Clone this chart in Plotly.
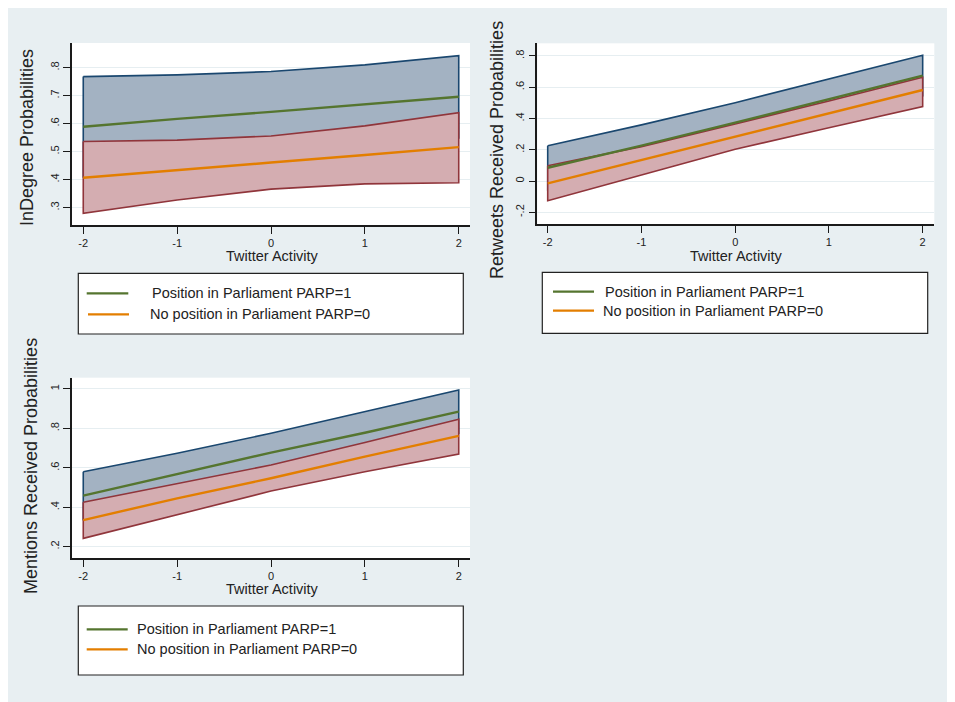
import plotly.graph_objects as go

# ---------------- data ----------------
x_vals = [-2, -1, 0, 1, 2]
x_ticks = [-2, -1, 0, 1, 2]

# Panel 1: InDegree
p1_parp1_mean = [0.589, 0.617, 0.642, 0.670, 0.696]
p1_parp1_hi = [0.768, 0.774, 0.786, 0.810, 0.843]
p1_parp1_lo = [0.410, 0.460, 0.498, 0.530, 0.549]
p1_parp0_mean = [0.407, 0.435, 0.461, 0.488, 0.516]
p1_parp0_hi = [0.536, 0.541, 0.556, 0.592, 0.639]
p1_parp0_lo = [0.280, 0.327, 0.366, 0.385, 0.389]
p1_yticks = [0.3, 0.4, 0.5, 0.6, 0.7, 0.8]
p1_yticklabels = [".3", ".4", ".5", ".6", ".7", ".8"]

# Panel 2: Retweets
p2_parp1_mean = [0.085, 0.226, 0.373, 0.523, 0.674]
p2_parp1_hi = [0.226, 0.359, 0.501, 0.651, 0.804]
p2_parp1_lo = [-0.056, 0.093, 0.245, 0.395, 0.544]
p2_parp0_mean = [-0.015, 0.135, 0.284, 0.433, 0.582]
p2_parp0_hi = [0.098, 0.220, 0.365, 0.512, 0.664]
p2_parp0_lo = [-0.126, 0.039, 0.203, 0.341, 0.476]
p2_yticks = [-0.2, 0.0, 0.2, 0.4, 0.6, 0.8]
p2_yticklabels = ["-.2", "0", ".2", ".4", ".6", ".8"]

# Panel 3: Mentions
p3_parp1_mean = [0.459, 0.567, 0.677, 0.778, 0.885]
p3_parp1_hi = [0.580, 0.674, 0.775, 0.885, 0.995]
p3_parp1_lo = [0.338, 0.460, 0.579, 0.671, 0.775]
p3_parp0_mean = [0.335, 0.445, 0.547, 0.657, 0.762]
p3_parp0_hi = [0.425, 0.518, 0.614, 0.728, 0.846]
p3_parp0_lo = [0.242, 0.361, 0.482, 0.580, 0.670]
p3_yticks = [0.2, 0.4, 0.6, 0.8, 1.0]
p3_yticklabels = [".2", ".4", ".6", ".8", "1"]

x_title = "Twitter Activity"
y_titles = ["InDegree Probabilities", "Retweets Received Probabilities",
            "Mentions Received Probabilities"]
legend_labels = ["Position in Parliament PARP=1", "No position in Parliament PARP=0"]

# ---------------- style ----------------
W, H = 955, 702
OFF = 8  # page body margin
BG = "#e8eff2"
BLUE_FILL = "#a3b2c2"
BLUE_EDGE = "#1a476f"
RED_FILL = "#d4adb1"
RED_EDGE = "#90353b"
GREEN = "#55752f"
ORANGE = "#e37e00"
GRID = "#e6eef1"
AXIS = "#1a1a1a"
FONT = "Liberation Sans, Arial, sans-serif"


def fx(px):
    return (px - OFF) / W


def fy(py):
    return 1 - (py - OFF) / H


fig = go.Figure()

panels = [
    dict(mean1=p1_parp1_mean, hi1=p1_parp1_hi, lo1=p1_parp1_lo,
         mean0=p1_parp0_mean, hi0=p1_parp0_hi, lo0=p1_parp0_lo,
         yt=p1_yticks, ytl=p1_yticklabels,
         xdom=(72, 470), ydom=(43, 225), xr=(-2.12, 2.12), yr=(0.238, 0.888)),
    dict(mean1=p2_parp1_mean, hi1=p2_parp1_hi, lo1=p2_parp1_lo,
         mean0=p2_parp0_mean, hi0=p2_parp0_hi, lo0=p2_parp0_lo,
         yt=p2_yticks, ytl=p2_yticklabels,
         xdom=(537.3, 934.3), ydom=(43.3, 224.3), xr=(-2.111, 2.124), yr=(-0.277, 0.881)),
    dict(mean1=p3_parp1_mean, hi1=p3_parp1_hi, lo1=p3_parp1_lo,
         mean0=p3_parp0_mean, hi0=p3_parp0_hi, lo0=p3_parp0_lo,
         yt=p3_yticks, ytl=p3_yticklabels,
         xdom=(72, 470), ydom=(377.7, 558.3), xr=(-2.12, 2.12), yr=(0.141, 1.057)),
]

layout_axes = {}
for i, p in enumerate(panels):
    n = i + 1
    xa = "x" if n == 1 else f"x{n}"
    ya = "y" if n == 1 else f"y{n}"
    xs = x_vals
    # PARP=1 band
    fig.add_trace(go.Scatter(
        x=xs + xs[::-1] + [xs[0]], y=p["hi1"] + p["lo1"][::-1] + [p["hi1"][0]],
        fill="toself", fillcolor=BLUE_FILL, mode="lines",
        line=dict(color=BLUE_EDGE, width=1.6), xaxis=xa, yaxis=ya,
        showlegend=False, hoverinfo="skip"))
    # PARP=0 band
    fig.add_trace(go.Scatter(
        x=xs + xs[::-1] + [xs[0]], y=p["hi0"] + p["lo0"][::-1] + [p["hi0"][0]],
        fill="toself", fillcolor=RED_FILL, mode="lines",
        line=dict(color=RED_EDGE, width=1.6), xaxis=xa, yaxis=ya,
        showlegend=False, hoverinfo="skip"))
    fig.add_trace(go.Scatter(x=xs, y=p["mean1"], mode="lines",
                             line=dict(color=GREEN, width=2.4), xaxis=xa, yaxis=ya,
                             showlegend=False, name=legend_labels[0]))
    fig.add_trace(go.Scatter(x=xs, y=p["mean0"], mode="lines",
                             line=dict(color=ORANGE, width=2.4), xaxis=xa, yaxis=ya,
                             showlegend=False, name=legend_labels[1]))

    xkey = "xaxis" if n == 1 else f"xaxis{n}"
    ykey = "yaxis" if n == 1 else f"yaxis{n}"
    layout_axes[xkey] = dict(
        domain=[fx(p["xdom"][0]), fx(p["xdom"][1])], range=list(p["xr"]),
        anchor=ya, tickvals=x_ticks, ticktext=[str(t) for t in x_ticks],
        ticks="outside", ticklen=7, tickwidth=1.2, tickcolor=AXIS,
        showline=True, linecolor=AXIS, linewidth=1.5, showgrid=False, zeroline=False,
        tickfont=dict(family=FONT, size=11, color="#222222"), fixedrange=True)
    layout_axes[ykey] = dict(
        domain=[fy(p["ydom"][1]), fy(p["ydom"][0])], range=list(p["yr"]),
        anchor=xa, tickvals=p["yt"], ticktext=p["ytl"], tickangle=-90,
        ticks="outside", ticklen=7, tickwidth=1.2, tickcolor=AXIS,
        showline=True, linecolor=AXIS, linewidth=1.5, showgrid=True,
        gridcolor=GRID, gridwidth=1.2, zeroline=False,
        tickfont=dict(family=FONT, size=11, color="#222222"), fixedrange=True)

shapes = []
annotations = []

# axis titles
xt_pos = [(272, 256), (736, 256), (272, 589)]
yt_pos = [(27, 138), (497, 150), (31, 466)]
for i in range(3):
    annotations.append(dict(text=x_title, x=fx(xt_pos[i][0]), y=fy(xt_pos[i][1]),
                            xref="paper", yref="paper", showarrow=False,
                            xanchor="center", yanchor="middle",
                            font=dict(family=FONT, size=14.5, color="#222222")))
    annotations.append(dict(text=y_titles[i], x=fx(yt_pos[i][0]), y=fy(yt_pos[i][1]),
                            xref="paper", yref="paper", showarrow=False, textangle=-90,
                            xanchor="center", yanchor="middle",
                            font=dict(family=FONT, size=18, color="#222222")))

# legends (drawn manually)
legends = [
    dict(box=(78.3, 273.3, 463.3, 334), lines=[(86.7, 128.3, 293.3), (88, 129, 314.3)],
         texts=[(150, 293.3), (148.3, 314.3)]),
    dict(box=(542.3, 272.3, 927.7, 333.3), lines=[(553, 594, 291.7), (553, 594, 310.7)],
         texts=[(603.3, 291.7), (601, 310.7)]),
    dict(box=(78.3, 606, 463.3, 675), lines=[(86.7, 127.7, 629.3), (86.7, 127.7, 649.3)],
         texts=[(135, 629.3), (135, 649.3)]),
]
colors = [GREEN, ORANGE]
for lg in legends:
    x0, y0, x1, y1 = lg["box"]
    shapes.append(dict(type="rect", xref="paper", yref="paper",
                       x0=fx(x0), x1=fx(x1), y0=fy(y1), y1=fy(y0),
                       fillcolor="white", line=dict(color="#222222", width=1.2)))
    for k in range(2):
        lx0, lx1, ly = lg["lines"][k]
        shapes.append(dict(type="line", xref="paper", yref="paper",
                           x0=fx(lx0), x1=fx(lx1), y0=fy(ly), y1=fy(ly),
                           line=dict(color=colors[k], width=2.2)))
        tx, ty = lg["texts"][k]
        annotations.append(dict(text=legend_labels[k], x=fx(tx), y=fy(ty),
                                xref="paper", yref="paper", showarrow=False,
                                xanchor="left", yanchor="middle",
                                font=dict(family=FONT, size=14.5, color="#222222")))

fig.update_layout(
    width=W, height=H, margin=dict(l=0, r=0, t=0, b=0),
    paper_bgcolor=BG, plot_bgcolor="white", showlegend=False,
    shapes=shapes, annotations=annotations, **layout_axes)

fig.write_html("out.html")
